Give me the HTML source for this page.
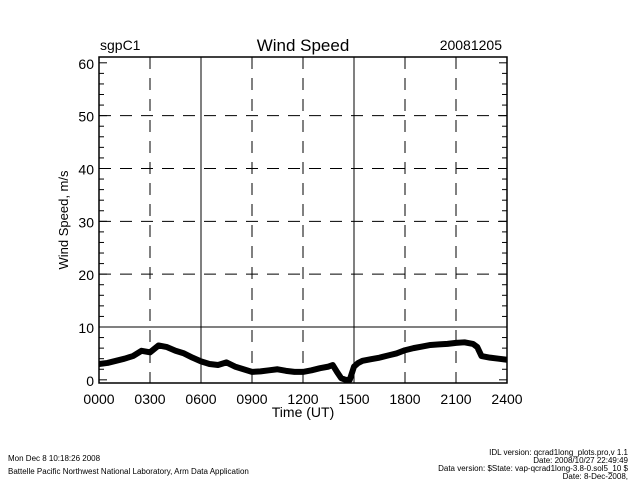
<!DOCTYPE html>
<html><head><meta charset="utf-8"><style>
body{margin:0;background:#fff;}
svg{display:block;font-family:"Liberation Sans",sans-serif;}
</style></head><body>
<svg id="c" width="640" height="480">
<text x="100" y="50" font-size="14">sgpC1</text>
<text x="303" y="51" font-size="17" text-anchor="middle">Wind Speed</text>
<text x="502" y="50" font-size="14" text-anchor="end">20081205</text>
<text transform="translate(68,220) rotate(-90)" font-size="13" text-anchor="middle">Wind Speed, m/s</text>
<text x="303" y="417" font-size="14" text-anchor="middle">Time (UT)</text>
<g font-size="8">
<text x="8" y="461">Mon Dec  8 10:18:26 2008</text>
<text x="8" y="474">Battelle Pacific Northwest National Laboratory, Arm Data Application</text>
<text x="628" y="455" text-anchor="end">IDL version: qcrad1long_plots.pro,v 1.1</text>
<text x="628" y="463" text-anchor="end">Date: 2008/10/27 22:49:49</text>
<text x="628" y="471" text-anchor="end">Data version: $State: vap-qcrad1long-3.8-0.sol5_10 $</text>
<text x="628" y="479" text-anchor="end">Date: 8-Dec-2008,</text>
</g>
</svg>
<script>
const xTicks=["0000","0300","0600","0900","1200","1500","1800","2100","2400"];
const yTicks=[0,10,20,30,40,50,60];
const hours=[0,0.5,1,1.5,2,2.5,3,3.5,4,4.5,5,5.5,6,6.5,7,7.5,8,8.5,9,9.5,10,10.5,11,11.5,12,12.5,13,13.5,13.75,14,14.25,14.5,14.75,15,15.25,15.5,16,16.5,17,17.5,18,18.5,19,19.5,20,20.5,21,21.5,22,22.25,22.5,23,23.5,24];
const speed=[3,3.2,3.6,4,4.5,5.5,5.2,6.5,6.2,5.5,5,4.2,3.5,3,2.8,3.3,2.5,2,1.5,1.6,1.8,2,1.7,1.5,1.5,1.8,2.2,2.5,2.8,1.5,0.3,0,0,2.5,3.2,3.6,3.9,4.2,4.6,5,5.6,6,6.3,6.6,6.7,6.8,7,7.1,6.8,6.2,4.5,4.2,4,3.8];
const svg=document.getElementById('c');const NS='http://www.w3.org/2000/svg';
const L=99,R=507,T=57,B=383,ymin=-0.6,ymax=61.1;
const xs=h=>L+(R-L)*h/24, ys=v=>B-(B-T)*(v-ymin)/(ymax-ymin);
function mk(t,a,p){const e=document.createElementNS(NS,t);for(const k in a)e.setAttribute(k,a[k]);(p||svg).appendChild(e);return e;}
const g=mk('g',{});


xTicks.forEach((t,i)=>{const x=xs(i*3);
 if(i>0&&i<8){const ln=mk('line',{x1:x,x2:x,y1:T,y2:B,stroke:'#000','stroke-width':1,'stroke-dasharray':(i==2||i==5)?'':'12,9'},g);
 
 }
 const tx=mk('text',{x:x,y:B+21,'font-size':14,'text-anchor':'middle'});tx.textContent=t;
 
 });
yTicks.forEach(v=>{const y=ys(v);
 if(v>0&&v<60){const ln=mk('line',{x1:L,x2:R,y1:y,y2:y,stroke:'#000','stroke-width':1,'stroke-dasharray':v==10?'':'12,9'},g);
 
 }
 const tx=mk('text',{x:L-5,y:y+6,'font-size':14,'text-anchor':'end'});tx.textContent=v;
 
 });
for(let v=0;v<=60;v+=2){const y=ys(v);const len=(v%10==0)?8:5;
 mk('line',{x1:L,x2:L+len,y1:y,y2:y,stroke:'#000'},g);mk('line',{x1:R,x2:R-len,y1:y,y2:y,stroke:'#000'},g);}
const fr=mk('rect',{x:L,y:T,width:R-L,height:B-T,fill:'none',stroke:'#000','stroke-width':1.5},g);


const pl=mk('polyline',{points:hours.map((h,i)=>xs(h)+','+ys(speed[i])).join(' '),fill:'none',stroke:'#000','stroke-width':6,'stroke-linejoin':'round'},g);


</script>
</body></html>
